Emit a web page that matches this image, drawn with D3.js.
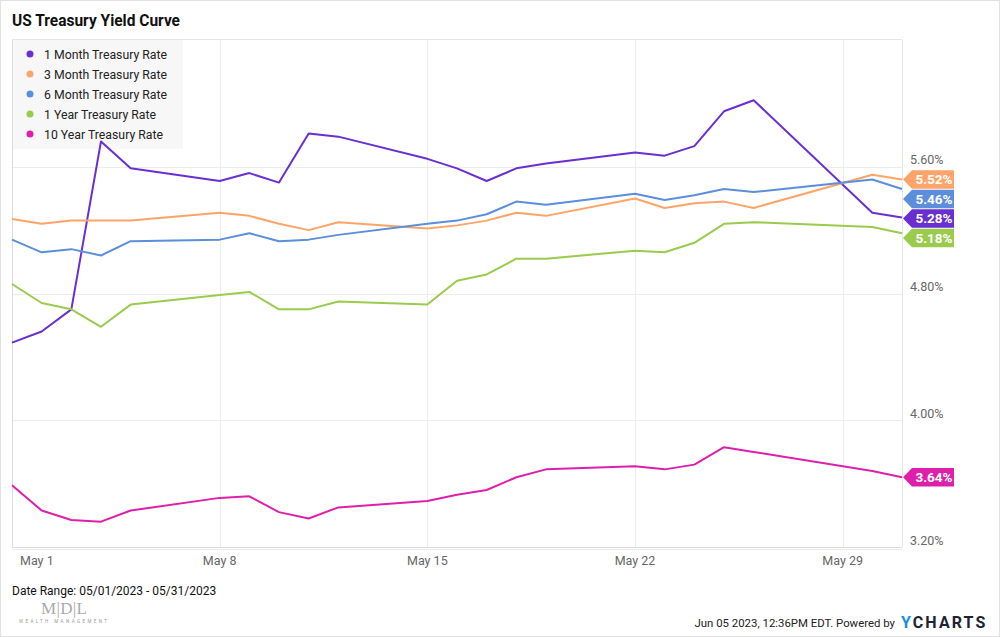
<!DOCTYPE html>
<html><head><meta charset="utf-8">
<script src="https://d3js.org/d3.v7.min.js"></script>
<style>body{margin:0;background:#fff;font-family:Roboto,"Noto Sans",sans-serif}</style>
</head><body><svg id="c" width="1000" height="637"></svg>
<script>
const dates = ["2023-05-01","2023-05-02","2023-05-03","2023-05-04","2023-05-05","2023-05-08","2023-05-09","2023-05-10","2023-05-11","2023-05-12","2023-05-15","2023-05-16","2023-05-17","2023-05-18","2023-05-19","2023-05-22","2023-05-23","2023-05-24","2023-05-25","2023-05-26","2023-05-30","2023-05-31"];
const oneMonth   = [4.49,4.56,4.70,5.76,5.59,5.51,5.56,5.50,5.81,5.79,5.65,5.59,5.51,5.59,5.62,5.69,5.67,5.73,5.95,6.02,5.31,5.28];
const threeMonth = [5.27,5.24,5.26,5.26,5.26,5.31,5.29,5.24,5.20,5.25,5.21,5.23,5.26,5.31,5.29,5.40,5.34,5.37,5.38,5.34,5.55,5.52];
const sixMonth   = [5.14,5.06,5.08,5.04,5.13,5.14,5.18,5.13,5.14,5.17,5.24,5.26,5.30,5.38,5.36,5.43,5.39,5.42,5.46,5.44,5.52,5.46];
const oneYear    = [4.86,4.74,4.70,4.59,4.73,4.79,4.81,4.70,4.70,4.75,4.73,4.88,4.92,5.02,5.02,5.07,5.06,5.12,5.24,5.25,5.22,5.18];
const tenYear    = [3.59,3.43,3.37,3.36,3.43,3.51,3.52,3.42,3.38,3.45,3.49,3.53,3.56,3.64,3.69,3.71,3.69,3.72,3.83,3.80,3.68,3.64];
const seriesNames = ["1 Month Treasury Rate","3 Month Treasury Rate","6 Month Treasury Rate","1 Year Treasury Rate","10 Year Treasury Rate"];
const seriesColors = ["#6a2fd0","#ffa468","#5b8edb","#9acb4d","#de1fab"];
const yTicks = [3.2,4.0,4.8,5.6];
const xTickDates = ["2023-05-01","2023-05-08","2023-05-15","2023-05-22","2023-05-29"];

const seriesValues = [oneMonth,threeMonth,sixMonth,oneYear,tenYear];
const parse = d3.timeParse("%Y-%m-%d");
const svg = d3.select("#c");
const L=12,R=902,T=40,B=547;
const x = d3.scaleTime().domain([parse("2023-05-01"),parse("2023-05-31")]).range([L,R]);
const y = d3.scaleLinear().domain([3.2,6.4]).range([B,T]);

// outer border
svg.append("rect").attr("x",0.5).attr("y",0.5).attr("width",999).attr("height",636).attr("fill","none").attr("stroke","#e2e2e2");

// title
svg.append("text").attr("x",12).attr("y",26).attr("font-size",16).attr("font-weight","bold").attr("fill","#111")
  .attr("textLength",168).attr("lengthAdjust","spacingAndGlyphs").text("US Treasury Yield Curve");

// grid
const g = svg.append("g");
g.selectAll(".hg").data(yTicks).join("line").attr("x1",L).attr("x2",R).attr("y1",d=>Math.round(y(d))+0.5).attr("y2",d=>Math.round(y(d))+0.5).attr("stroke",d=>d===3.2?"#dcdcdc":"#ececec");
g.selectAll(".vg").data(xTickDates.slice(1)).join("line").attr("x1",d=>Math.round(x(parse(d)))+0.5).attr("x2",d=>Math.round(x(parse(d)))+0.5).attr("y1",T).attr("y2",B).attr("stroke","#ececec");
g.append("line").attr("x1",L).attr("x2",R).attr("y1",T-0.5).attr("y2",T-0.5).attr("stroke","#e6e6e6");
g.append("line").attr("x1",L+0.5).attr("x2",L+0.5).attr("y1",T).attr("y2",B).attr("stroke","#dcdcdc");
g.append("line").attr("x1",R+0.5).attr("x2",R+0.5).attr("y1",T).attr("y2",B).attr("stroke","#e6e6e6");
g.append("line").attr("x1",L).attr("x2",R).attr("y1",B+2.5).attr("y2",B+2.5).attr("stroke","#ececec");

// y labels
svg.selectAll(".yl").data(yTicks).join("text").attr("x",910).attr("y",d=>y(d)-2.5).attr("font-size",12.5).attr("fill","#666").text(d=>d.toFixed(2)+"%");

// x labels
svg.selectAll(".xl").data(xTickDates).join("text")
  .attr("x",(d,i)=>i===0?20:x(parse(d)))
  .attr("text-anchor",(d,i)=>i===0?"start":"middle")
  .attr("y",565).attr("font-size",12.5).attr("fill","#666")
  .text(d=>d3.timeFormat("%b %-d")(parse(d)));

// legend (behind lines)
const lg = svg.append("g");
lg.append("rect").attr("x",13).attr("y",40).attr("width",170).attr("height",109).attr("fill","#f7f7f7");
seriesNames.forEach((n,k)=>{
  lg.append("circle").attr("cx",30).attr("cy",54+k*20).attr("r",3.5).attr("fill",seriesColors[k]);
  lg.append("text").attr("x",44).attr("y",58.5+k*20).attr("font-size",12.5).attr("fill","#222")
    .attr("textLength",k===3?112:(k===4?119:123)).attr("lengthAdjust","spacingAndGlyphs").text(n);
});

// lines
const line = d3.line().x((d,i)=>x(parse(dates[i]))).y(d=>y(d));
seriesValues.forEach((vals,k)=>{
  svg.append("path").attr("d",line(vals)).attr("fill","none").attr("stroke",seriesColors[k]).attr("stroke-width",2).attr("stroke-linejoin","round");
});

// end tags with collision avoidance
const tags = seriesValues.map((v,k)=>({k,val:v[v.length-1],ty:y(v[v.length-1])})).sort((a,b)=>a.ty-b.ty);
const H=19.5;
for(let i=1;i<tags.length;i++){ if(tags[i].ty < tags[i-1].ty+H) tags[i].ty = tags[i-1].ty+H; }
tags.forEach(t=>{
  const cy=t.ty, x0=R+1, xb=912, xr=954, h=9.25;
  svg.append("path").attr("d",`M${x0},${cy} L${xb},${cy-h} L${xr},${cy-h} L${xr},${cy+h} L${xb},${cy+h} Z`).attr("fill",seriesColors[t.k]);
  svg.append("text").attr("x",(xb+xr)/2+1).attr("y",cy+4.8).attr("text-anchor","middle").attr("font-size",13.5).attr("font-weight","bold").attr("fill","#fff").text(t.val.toFixed(2)+"%");
});

// footer
svg.append("text").attr("x",12).attr("y",595).attr("font-size",12).attr("fill","#111").text("Date Range: 05/01/2023 - 05/31/2023");
svg.append("text").attr("x",64).attr("y",614).attr("text-anchor","middle").attr("font-family","'Liberation Serif',serif").attr("font-size",17).attr("fill","#aaa").attr("textLength",46).attr("lengthAdjust","spacing").text("M|D|L");
svg.append("text").attr("x",19).attr("y",623).attr("font-size",4.5).attr("fill","#999").attr("textLength",88).attr("lengthAdjust","spacing").text("WEALTH MANAGEMENT");
svg.append("text").attr("x",895).attr("y",627).attr("text-anchor","end").attr("font-size",11.4).attr("fill","#222").text("Jun 05 2023, 12:36PM EDT. Powered by");
const yc = svg.append("text").attr("x",901).attr("y",628).attr("font-size",16).attr("font-weight","bold").attr("letter-spacing",2.1);
yc.append("tspan").attr("fill","#1a8fe0").text("Y");
yc.append("tspan").attr("fill","#1d2330").text("CHARTS");
</script></body></html>
